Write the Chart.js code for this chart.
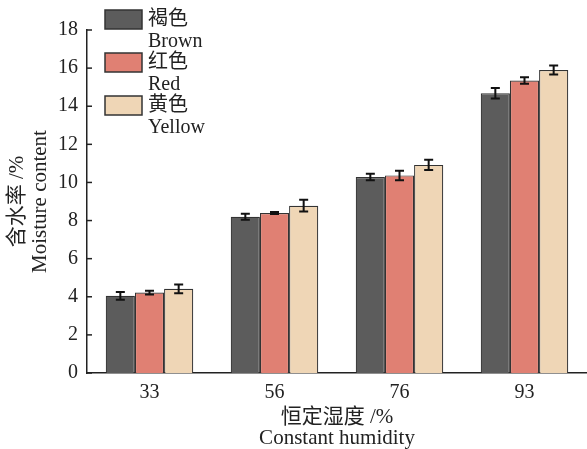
<!DOCTYPE html>
<html>
<head>
<meta charset="utf-8">
<script src="https://cdn.jsdelivr.net/npm/chart.js@4/dist/chart.umd.min.js"></script>
<style>
  html, body { margin: 0; padding: 0; background: #fff; }
  #wrap { width: 587px; height: 449px; position: relative; }
</style>
</head>
<body>
<div id="wrap"><canvas id="chart"></canvas></div>
<script>
// data
const categories = ['33', '56', '76', '93'];
const brownValues = [4.05, 8.2, 10.28, 14.68];
const redValues = [4.22, 8.4, 10.37, 15.35];
const yellowValues = [4.42, 8.78, 10.92, 15.9];
const brownErrors = [0.2, 0.16, 0.17, 0.28];
const redErrors = [0.1, 0.05, 0.25, 0.17];
const yellowErrors = [0.23, 0.31, 0.27, 0.24];
const yTicks = [0, 2, 4, 6, 8, 10, 12, 14, 16, 18];

const SERIF = "'Liberation Serif', 'Noto Sans CJK SC', serif";
const INK = '#222';

// error bars drawn through the scales
const errorBarPlugin = {
    id: 'errorBars',
    afterDatasetsDraw(chart) {
        const ctx = chart.ctx;
        const y = chart.scales.y;
        ctx.save();
        ctx.strokeStyle = '#111';
        ctx.lineWidth = 2;
        chart.data.datasets.forEach((ds, i) => {
            const meta = chart.getDatasetMeta(i);
            meta.data.forEach((bar, j) => {
                const v = ds.data[j];
                const e = ds.errors[j];
                const top = y.getPixelForValue(v + e);
                const bot = y.getPixelForValue(v - e);
                const cap = 4.5;
                ctx.beginPath();
                ctx.moveTo(bar.x, top); ctx.lineTo(bar.x, bot);
                ctx.moveTo(bar.x - cap, top); ctx.lineTo(bar.x + cap, top);
                ctx.moveTo(bar.x - cap, bot); ctx.lineTo(bar.x + cap, bot);
                ctx.stroke();
            });
        });
        ctx.restore();
    }
};

// inward ticks on the y axis
const innerTicksPlugin = {
    id: 'innerTicks',
    afterDraw(chart) {
        const ctx = chart.ctx;
        const y = chart.scales.y;
        const left = chart.chartArea.left;
        ctx.save();
        ctx.strokeStyle = INK;
        ctx.lineWidth = 1.5;
        yTicks.forEach(t => {
            const py = y.getPixelForValue(t);
            ctx.beginPath();
            ctx.moveTo(left, py);
            ctx.lineTo(left + 5, py);
            ctx.stroke();
        });
        ctx.restore();
    }
};

// legend with two-line labels (Chinese + English)
const legendPlugin = {
    id: 'twoLineLegend',
    afterDraw(chart) {
        const ctx = chart.ctx;
        ctx.save();
        ctx.font = '20px ' + SERIF;
        ctx.textBaseline = 'middle';
        chart.data.datasets.forEach((ds, i) => {
            const bx = 105, by = 10 + i * 43;
            ctx.fillStyle = ds.backgroundColor;
            ctx.fillRect(bx, by, 37, 19);
            ctx.strokeStyle = '#333';
            ctx.lineWidth = 1.5;
            ctx.strokeRect(bx, by, 37, 19);
            ctx.fillStyle = INK;
            ctx.fillText(ds.label[0], 148, by + 10);
            ctx.fillText(ds.label[1], 148, by + 32);
        });
        ctx.restore();
    }
};

function makeSet(label, data, errors, color) {
    return {
        label: label,
        data: data,
        errors: errors,
        backgroundColor: color,
        borderColor: '#333',
        borderWidth: 1.2,
        borderSkipped: 'bottom',
        categoryPercentage: 0.7,
        barPercentage: 1.0
    };
}

new Chart(document.getElementById('chart'), {
    type: 'bar',
    data: {
        labels: categories,
        datasets: [
            makeSet(['褐色', 'Brown'], brownValues, brownErrors, '#5c5c5c'),
            makeSet(['红色', 'Red'], redValues, redErrors, '#e08073'),
            makeSet(['黄色', 'Yellow'], yellowValues, yellowErrors, '#efd6b6')
        ]
    },
    options: {
        responsive: true,
        maintainAspectRatio: false,
        animation: false,
        layout: { padding: { top: 30, right: 0, left: 0, bottom: 0 } },
        plugins: {
            legend: { display: false },
            tooltip: { enabled: false }
        },
        scales: {
            x: {
                grid: { display: false, drawTicks: false },
                border: { color: INK, width: 1.5 },
                ticks: { color: INK, font: { family: SERIF, size: 20 }, padding: 8 },
                title: {
                    display: true,
                    text: ['恒定湿度 /%', 'Constant humidity'],
                    color: INK,
                    font: { family: SERIF, size: 21, lineHeight: 1.0 },
                    padding: { top: 2, bottom: 0 }
                },
                afterFit(scale) { scale.height = 76; }
            },
            y: {
                min: 0,
                max: 18,
                afterBuildTicks(scale) { scale.ticks = yTicks.map(v => ({ value: v })); },
                grid: { display: false, drawTicks: false },
                border: { color: INK, width: 1.5 },
                ticks: { color: INK, font: { family: SERIF, size: 20 }, padding: 9 },
                title: {
                    display: true,
                    text: ['含水率 /%', 'Moisture content'],
                    color: INK,
                    font: { family: SERIF, size: 21, lineHeight: 1.1 },
                    padding: { top: 6, bottom: 4 }
                },
                afterFit(scale) { scale.width = 87; }
            }
        }
    },
    plugins: [errorBarPlugin, innerTicksPlugin, legendPlugin]
});
</script>
</body>
</html>
